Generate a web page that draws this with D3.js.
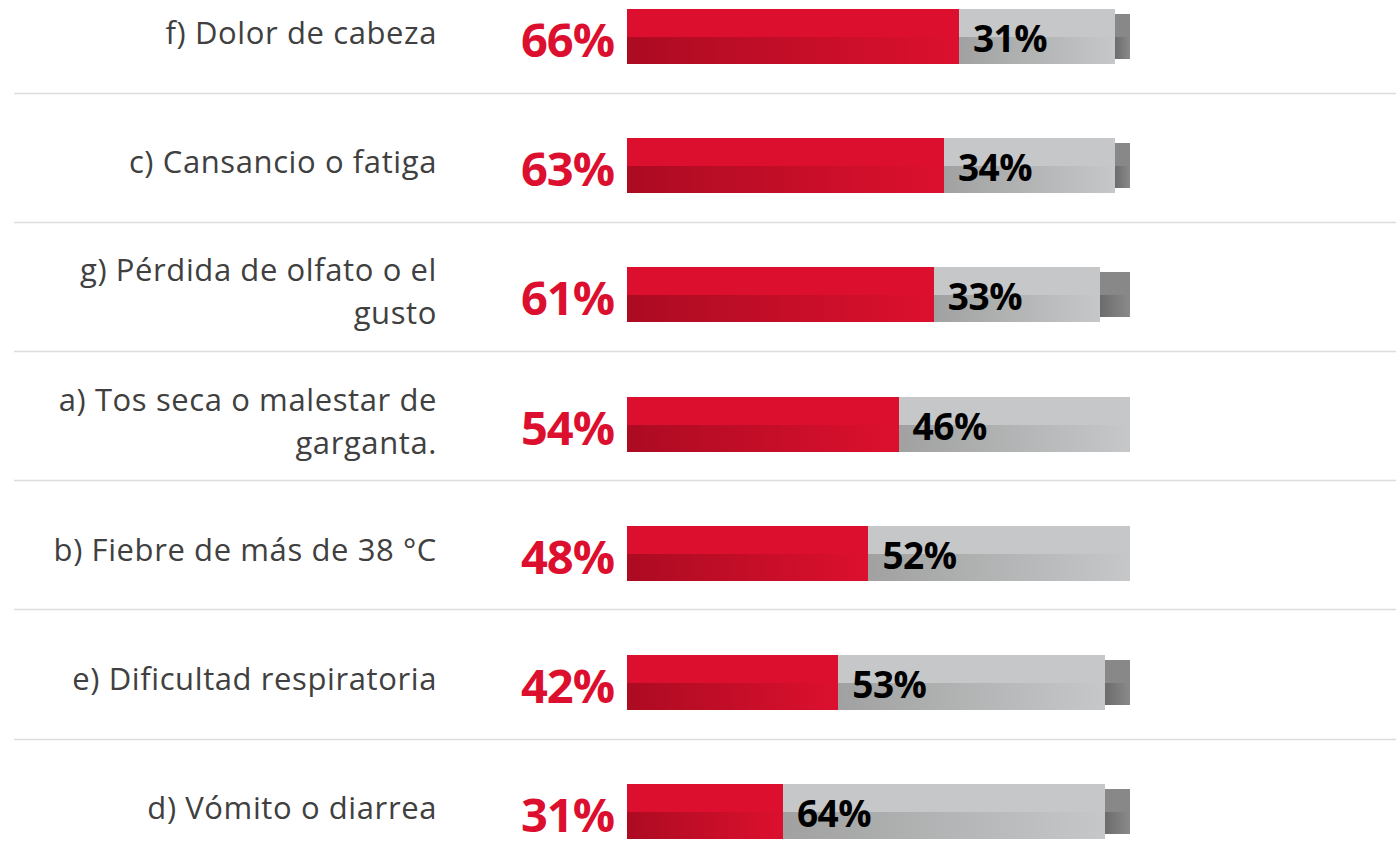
<!DOCTYPE html>
<html>
<head>
<meta charset="utf-8">
<script src="https://cdn.jsdelivr.net/npm/d3@7/dist/d3.min.js"></script>
<style>
  html, body { margin: 0; padding: 0; background: #fff; }
  svg { display: block; }
</style>
</head>
<body>
<svg id="chart" width="1396" height="868"></svg>
<script>
// Síntomas asociados, en porcentaje: sí / no / no sabe
const categories = [
  "f) Dolor de cabeza",
  "c) Cansancio o fatiga",
  "g) Pérdida de olfato o el\ngusto",
  "a) Tos seca o malestar de\ngarganta.",
  "b) Fiebre de más de 38 °C",
  "e) Dificultad respiratoria",
  "d) Vómito o diarrea"
];
const yesValues   = [66, 63, 61, 54, 48, 42, 31];
const noValues    = [31, 34, 33, 46, 52, 53, 64];
const otherValues = [3, 3, 6, 0, 0, 5, 5];

const svg = d3.select("#chart");
const W = 1396;

const rows = categories.map((c, i) => ({
  cat: c, yes: yesValues[i], no: noValues[i], other: otherValues[i]
}));

const rowStep = 129.17;
const y = d3.scaleBand()
  .domain(categories)
  .range([-36.5, -36.5 + rowStep * categories.length])
  .paddingInner(0).paddingOuter(0);
const barOffset = 45.5;   // bar top inside its row
const barH = 55;
const insetOther = 5;

const x = d3.scaleLinear().domain([0, 100]).range([627, 1130]);

// horizontal shading for the lower half of each segment
const defs = svg.append("defs");
function grad(id, from, to) {
  const g = defs.append("linearGradient").attr("id", id)
    .attr("x1", "0").attr("x2", "1").attr("y1", "0").attr("y2", "0");
  g.append("stop").attr("offset", "0").attr("stop-color", from);
  g.append("stop").attr("offset", "1").attr("stop-color", to);
}
grad("gYes", "#AC0B22", "#DC102E");
grad("gNo", "#A0A1A0", "#C6C7C9");
grad("gOther", "#6C6C6C", "#8A8A8A");

// row separators
svg.append("g").selectAll("line")
  .data(categories.slice(1))
  .join("line")
  .attr("x1", 14).attr("x2", W)
  .attr("y1", d => Math.round(y(d)) + 0.5).attr("y2", d => Math.round(y(d)) + 0.5)
  .attr("stroke", "#DCDCDC").attr("stroke-width", 1.5);

const row = svg.append("g").selectAll("g")
  .data(rows)
  .join("g")
  .attr("transform", d => `translate(0,${Math.round(y(d.cat) + barOffset)})`);

function segment(sel, x0, x1, top, h, flat, gradId) {
  const half = Math.round(h / 2);
  sel.append("rect")
    .attr("x", x0).attr("width", d => Math.max(0, x1(d) - x0(d)))
    .attr("y", top).attr("height", half)
    .attr("shape-rendering", "crispEdges")
    .attr("fill", flat);
  sel.append("rect")
    .attr("x", x0).attr("width", d => Math.max(0, x1(d) - x0(d)))
    .attr("y", top + half).attr("height", h - half)
    .attr("shape-rendering", "crispEdges")
    .attr("fill", `url(#${gradId})`);
}

// third segment (slightly thinner, drawn behind)
segment(row, d => x(d.yes + d.no), d => x(d.yes + d.no + d.other),
  insetOther, barH - 2 * insetOther, "#888888", "gOther");
// no
segment(row, d => x(d.yes), d => x(d.yes + d.no), 0, barH, "#C6C7C9", "gNo");
// yes
segment(row, d => x(0), d => x(d.yes), 0, barH, "#DC102E", "gYes");

// value labels
row.append("text")
  .attr("x", x(0) - 13)
  .attr("y", 48)
  .attr("text-anchor", "end")
  .attr("font-family", "'Open Sans', sans-serif")
  .attr("font-weight", 700)
  .attr("font-size", 47)
  .attr("letter-spacing", -1)
  .attr("fill", "#DC102E")
  .text(d => d.yes + "%");

row.append("text")
  .attr("x", d => x(d.yes) + 14)
  .attr("y", 43)
  .attr("font-family", "'Open Sans', sans-serif")
  .attr("font-weight", 700)
  .attr("font-size", 37)
  .attr("letter-spacing", -0.5)
  .attr("fill", "#000")
  .text(d => d.no + "%");

// category labels, right-aligned, possibly two lines
const lineH = 43;
row.append("text")
  .attr("text-anchor", "end")
  .attr("font-family", "'Open Sans', sans-serif")
  .attr("font-size", 31)
  .attr("letter-spacing", 0.6)
  .attr("fill", "#404040")
  .each(function(d) {
    const lines = d.cat.split("\n");
    const t = d3.select(this);
    lines.forEach((ln, k) => {
      t.append("tspan")
        .attr("x", 437)
        .attr("y", 35 + (k - (lines.length - 1) / 2) * lineH)
        .text(ln);
    });
  });
</script>
</body>
</html>
